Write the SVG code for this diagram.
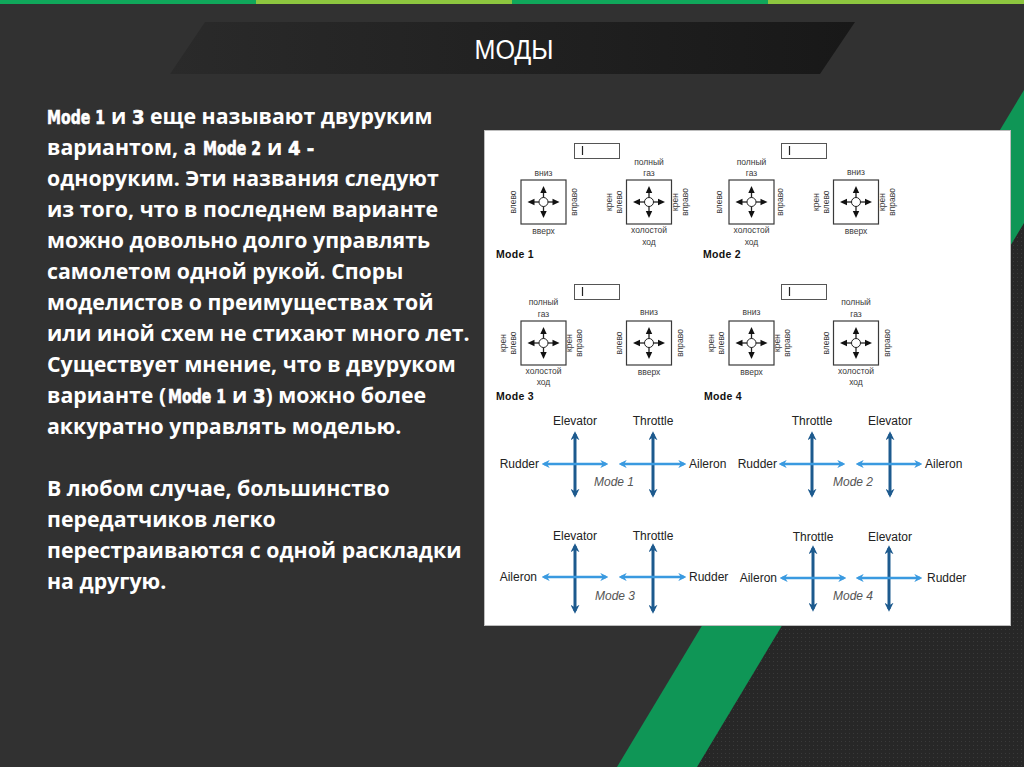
<svg xmlns="http://www.w3.org/2000/svg" xmlns:xlink="http://www.w3.org/1999/xlink" width="1024" height="767" viewBox="0 0 1024 767">
<defs>
<pattern id="dots" width="4" height="4" patternUnits="userSpaceOnUse">
<rect width="4" height="4" fill="#272727"/>
<rect x="1" y="1" width="1" height="1" fill="#3a3a3a"/>
</pattern>
<linearGradient id="ban" x1="0" y1="0" x2="1" y2="0">
<stop offset="0" stop-color="#2a2a2a"/>
<stop offset="1" stop-color="#181818"/>
</linearGradient>
<marker id="hd" viewBox="0 0 10 10" refX="7" refY="5" markerWidth="3" markerHeight="3" orient="auto-start-reverse" markerUnits="strokeWidth">
<path d="M0,0 L10,5 L0,10 L3,5 z" fill="#1d5a8e"/>
</marker>
<marker id="hl" viewBox="0 0 10 10" refX="7" refY="5" markerWidth="3.4" markerHeight="3.4" orient="auto-start-reverse" markerUnits="strokeWidth">
<path d="M0,0 L10,5 L0,10 L3,5 z" fill="#3a9ae0"/>
</marker>
<g id="stick">
<rect x="-22.5" y="-22" width="45" height="44" fill="#fff" stroke="#3a3a3a" stroke-width="1.2"/>
<circle r="4.5" fill="#fff" stroke="#222" stroke-width="1"/>
<g stroke="#222" stroke-width="1.3">
<line x1="0" y1="-4.5" x2="0" y2="-10"/>
<line x1="0" y1="4.5" x2="0" y2="10"/>
<line x1="-4.5" y1="0" x2="-10" y2="0"/>
<line x1="4.5" y1="0" x2="10" y2="0"/>
</g>
<g fill="#111">
<polygon points="0,-16 -3.2,-9 3.2,-9"/>
<polygon points="0,16 -3.2,9 3.2,9"/>
<polygon points="-16,0 -9,-3.2 -9,3.2"/>
<polygon points="16,0 9,-3.2 9,3.2"/>
</g>
</g>
</defs>
<style>
.body{font-family:"Open Sans","DejaVu Sans",sans-serif;font-weight:700;font-size:21.3px;fill:#fff}
.m{font-family:"DejaVu Sans Condensed","Liberation Sans Narrow",sans-serif;font-weight:700;font-size:20px;stroke:#fff;stroke-width:0.6}
.lb{font-family:"Liberation Sans",Arial,sans-serif;font-size:8.5px;fill:#3a3a3a;text-anchor:middle}
.md{font-family:"Liberation Sans",Arial,sans-serif;font-size:10.5px;font-weight:700;fill:#111;letter-spacing:0.3px}
.jt{font-family:"Liberation Sans",Arial,sans-serif;font-size:12px;fill:#222}
.mi{font-family:"Liberation Sans",Arial,sans-serif;font-size:12px;font-style:italic;fill:#555;text-anchor:middle}
.vd{stroke:#1d5a8e;stroke-width:3;fill:none;marker-start:url(#hd);marker-end:url(#hd)}
.hz{stroke:#3a9ae0;stroke-width:2.4;fill:none;marker-start:url(#hl);marker-end:url(#hl)}
.box{fill:#fff;stroke:#555;stroke-width:1}
</style>

<!-- background -->
<rect width="1024" height="767" fill="#313131"/>
<polygon points="697,767 1024,767 1024,223" fill="url(#dots)"/>
<polygon points="617,767 697,767 1024,223 1024,90" fill="#0f9656"/>
<rect x="0" y="0" width="256" height="4" fill="#10a75b"/>
<rect x="256" y="0" width="256" height="4" fill="#8dc63f"/>
<rect x="512" y="0" width="256" height="4" fill="#10a75b"/>
<rect x="768" y="0" width="256" height="4" fill="#8dc63f"/>

<!-- title banner -->
<g id="title">
<polygon points="205,22 855,22 820,74 170,74" fill="url(#ban)"/>
<text x="514" y="59" text-anchor="middle" font-family="Liberation Sans Narrow,Liberation Sans,sans-serif" font-size="27" fill="#fff" textLength="79" lengthAdjust="spacingAndGlyphs">МОДЫ</text>
</g>

<!-- body text -->
<g id="body-text" class="body">
<text class="m" x="47" y="124" textLength="58" lengthAdjust="spacingAndGlyphs">Mode 1</text>
<text x="111" y="124">и <tspan class="m">3</tspan> еще называют двуруким</text>
<text x="47" y="155">вариантом, а</text>
<text class="m" x="203" y="155" textLength="58" lengthAdjust="spacingAndGlyphs">Mode 2</text>
<text x="267" y="155">и <tspan class="m">4 -</tspan></text>
<text x="47" y="186">одноруким. Эти названия следуют</text>
<text x="47" y="217">из того, что в последнем варианте</text>
<text x="47" y="248">можно довольно долго управлять</text>
<text x="47" y="279">самолетом одной рукой. Споры</text>
<text x="47" y="310">моделистов о преимуществах той</text>
<text x="47" y="341">или иной схем не стихают много лет.</text>
<text x="47" y="372">Существует мнение, что в двуруком</text>
<text x="47" y="403">варианте (</text>
<text class="m" x="168" y="403" textLength="58" lengthAdjust="spacingAndGlyphs">Mode 1</text>
<text x="232" y="403">и <tspan class="m">3</tspan>) можно более</text>
<text x="47" y="434">аккуратно управлять моделью.</text>
<text x="47" y="496">В любом случае, большинство</text>
<text x="47" y="527">передатчиков легко</text>
<text x="47" y="558">перестраиваются с одной раскладки</text>
<text x="47" y="589">на другую.</text>
</g>

<!-- picture panel -->
<rect x="484.5" y="130.5" width="526" height="495" fill="#fff" stroke="#bdbdbd" stroke-width="1"/>

<!-- Mode 1 (sticks) -->
<g id="mode1-sticks">
<rect class="box" x="574.5" y="143.5" width="45" height="15"/>
<line x1="582.5" y1="146" x2="582.5" y2="155" stroke="#222" stroke-width="1.2"/>
<use xlink:href="#stick" x="543.5" y="202"/>
<text class="lb" x="543.5" y="176">вниз</text>
<text class="lb" x="543.5" y="234">вверх</text>
<text class="lb" transform="translate(516,202) rotate(-90)">влево</text>
<text class="lb" transform="translate(577,202) rotate(-90)">вправо</text>
<use xlink:href="#stick" x="649" y="202"/>
<text class="lb" x="649" y="165">полный</text>
<text class="lb" x="649" y="176">газ</text>
<text class="lb" x="649" y="233">холостой</text>
<text class="lb" x="649" y="245">ход</text>
<text class="lb" transform="translate(612,202) rotate(-90)">крен</text>
<text class="lb" transform="translate(622,202) rotate(-90)">влево</text>
<text class="lb" transform="translate(678,202) rotate(-90)">крен</text>
<text class="lb" transform="translate(688,202) rotate(-90)">вправо</text>
<text class="md" x="496" y="258">Mode 1</text>
</g>

<!-- Mode 2 (sticks) -->
<g id="mode2-sticks">
<rect class="box" x="781.5" y="143.5" width="45" height="15"/>
<line x1="789.5" y1="146" x2="789.5" y2="155" stroke="#222" stroke-width="1.2"/>
<use xlink:href="#stick" x="751.5" y="202"/>
<text class="lb" x="751.5" y="165">полный</text>
<text class="lb" x="751.5" y="176">газ</text>
<text class="lb" x="751.5" y="233">холостой</text>
<text class="lb" x="751.5" y="245">ход</text>
<text class="lb" transform="translate(722,202) rotate(-90)">влево</text>
<text class="lb" transform="translate(783,202) rotate(-90)">вправо</text>
<use xlink:href="#stick" x="856" y="202"/>
<text class="lb" x="856" y="175">вниз</text>
<text class="lb" x="856" y="234">вверх</text>
<text class="lb" transform="translate(819,202) rotate(-90)">крен</text>
<text class="lb" transform="translate(829,202) rotate(-90)">влево</text>
<text class="lb" transform="translate(885,202) rotate(-90)">крен</text>
<text class="lb" transform="translate(895,202) rotate(-90)">вправо</text>
<text class="md" x="703" y="258">Mode 2</text>
</g>

<!-- Mode 3 (sticks) -->
<g id="mode3-sticks">
<rect class="box" x="574.5" y="284.5" width="45" height="15"/>
<line x1="582.5" y1="287" x2="582.5" y2="296" stroke="#222" stroke-width="1.2"/>
<use xlink:href="#stick" x="543.5" y="343"/>
<text class="lb" x="543.5" y="305">полный</text>
<text class="lb" x="543.5" y="317">газ</text>
<text class="lb" x="543.5" y="374">холостой</text>
<text class="lb" x="543.5" y="385">ход</text>
<text class="lb" transform="translate(506,343) rotate(-90)">крен</text>
<text class="lb" transform="translate(516,343) rotate(-90)">влево</text>
<text class="lb" transform="translate(572,343) rotate(-90)">крен</text>
<text class="lb" transform="translate(582,343) rotate(-90)">вправо</text>
<use xlink:href="#stick" x="649" y="343"/>
<text class="lb" x="649" y="315">вниз</text>
<text class="lb" x="649" y="375">вверх</text>
<text class="lb" transform="translate(622,343) rotate(-90)">влево</text>
<text class="lb" transform="translate(683,343) rotate(-90)">вправо</text>
<text class="md" x="496" y="400">Mode 3</text>
</g>

<!-- Mode 4 (sticks) -->
<g id="mode4-sticks">
<rect class="box" x="781.5" y="284.5" width="45" height="15"/>
<line x1="789.5" y1="287" x2="789.5" y2="296" stroke="#222" stroke-width="1.2"/>
<use xlink:href="#stick" x="751.5" y="343"/>
<text class="lb" x="751.5" y="315">вниз</text>
<text class="lb" x="751.5" y="375">вверх</text>
<text class="lb" transform="translate(714,343) rotate(-90)">крен</text>
<text class="lb" transform="translate(724,343) rotate(-90)">влево</text>
<text class="lb" transform="translate(780,343) rotate(-90)">крен</text>
<text class="lb" transform="translate(790,343) rotate(-90)">вправо</text>
<use xlink:href="#stick" x="856" y="343"/>
<text class="lb" x="856" y="305">полный</text>
<text class="lb" x="856" y="317">газ</text>
<text class="lb" x="856" y="374">холостой</text>
<text class="lb" x="856" y="385">ход</text>
<text class="lb" transform="translate(829,343) rotate(-90)">влево</text>
<text class="lb" transform="translate(890,343) rotate(-90)">вправо</text>
<text class="md" x="704" y="400">Mode 4</text>
</g>

<!-- joystick diagrams -->
<g id="mode1-axes">
<text class="jt" x="575" y="425" text-anchor="middle">Elevator</text>
<text class="jt" x="653" y="425" text-anchor="middle">Throttle</text>
<text class="jt" x="539" y="468" text-anchor="end">Rudder</text>
<text class="jt" x="689" y="468">Aileron</text>
<text class="mi" x="614" y="486">Mode 1</text>
</g>
<g id="mode2-axes">
<text class="jt" x="812" y="425" text-anchor="middle">Throttle</text>
<text class="jt" x="890" y="425" text-anchor="middle">Elevator</text>
<text class="jt" x="777" y="468" text-anchor="end">Rudder</text>
<text class="jt" x="925" y="468">Aileron</text>
<text class="mi" x="853" y="486">Mode 2</text>
</g>
<g id="mode3-axes">
<text class="jt" x="575" y="540" text-anchor="middle">Elevator</text>
<text class="jt" x="653" y="540" text-anchor="middle">Throttle</text>
<text class="jt" x="537" y="581" text-anchor="end">Aileron</text>
<text class="jt" x="689" y="581">Rudder</text>
<text class="mi" x="615" y="600">Mode 3</text>
</g>
<g id="mode4-axes">
<text class="jt" x="813" y="541" text-anchor="middle">Throttle</text>
<text class="jt" x="890" y="541" text-anchor="middle">Elevator</text>
<text class="jt" x="777" y="582" text-anchor="end">Aileron</text>
<text class="jt" x="927" y="582">Rudder</text>
<text class="mi" x="853" y="600">Mode 4</text>
</g>

<g id="connectors">
<line class="vd" x1="575" y1="434" x2="575" y2="495"/>
<line class="vd" x1="653" y1="434" x2="653" y2="495"/>
<line class="hz" x1="544" y1="464" x2="606" y2="464"/>
<line class="hz" x1="621" y1="464" x2="684" y2="464"/>
<line class="vd" x1="812" y1="434" x2="812" y2="495"/>
<line class="vd" x1="890" y1="434" x2="890" y2="495"/>
<line class="hz" x1="781" y1="464" x2="843" y2="464"/>
<line class="hz" x1="858" y1="464" x2="920" y2="464"/>
<line class="vd" x1="575" y1="546" x2="575" y2="611"/>
<line class="vd" x1="653" y1="546" x2="653" y2="611"/>
<line class="hz" x1="544" y1="577" x2="606" y2="577"/>
<line class="hz" x1="621" y1="577" x2="684" y2="577"/>
<line class="vd" x1="813" y1="548" x2="813" y2="609"/>
<line class="vd" x1="889" y1="548" x2="889" y2="609"/>
<line class="hz" x1="782" y1="578" x2="844" y2="578"/>
<line class="hz" x1="858" y1="578" x2="920" y2="578"/>
</g>
</svg>
